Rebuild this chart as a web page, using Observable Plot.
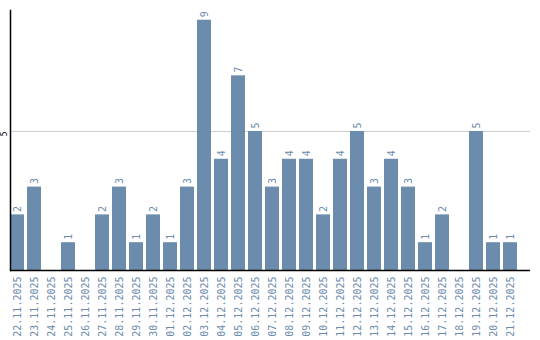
<!DOCTYPE html>
<html><head><meta charset="utf-8">
<script src="https://cdn.jsdelivr.net/npm/d3@7"></script>
<script src="https://cdn.jsdelivr.net/npm/@observablehq/plot@0.6"></script>
<style>body{margin:0;background:#fff}</style>
</head><body><div id="chart"></div>
<script>
const dates = ["22.11.2025","23.11.2025","24.11.2025","25.11.2025","26.11.2025","27.11.2025","28.11.2025","29.11.2025","30.11.2025","01.12.2025","02.12.2025","03.12.2025","04.12.2025","05.12.2025","06.12.2025","07.12.2025","08.12.2025","09.12.2025","10.12.2025","11.12.2025","12.12.2025","13.12.2025","14.12.2025","15.12.2025","16.12.2025","17.12.2025","18.12.2025","19.12.2025","20.12.2025","21.12.2025"];
const counts = [2,3,0,1,0,2,3,1,2,1,3,9,4,7,5,3,4,4,2,4,5,3,4,3,1,2,0,5,1,1];
const yTicks = [5];
const data = dates.map((d,i)=>({date:d, count:counts[i]}));
const barColor = "#6b8cad";
const chart = Plot.plot({
  width: 540, height: 340,
  marginLeft: 10, marginRight: 10, marginTop: 10, marginBottom: 70,
  style: {fontFamily: "DejaVu Sans Mono", fontSize: "10px", background: "#fff"},
  x: {domain: dates, paddingInner: 0.18, paddingOuter: 0.38, align: 0, label: null},
  y: {domain: [0, 9.35], label: null, axis: null},
  marks: [
    Plot.gridY(yTicks, {stroke: "#ccc", strokeOpacity: 1}),
    Plot.barY(data, {x: "date", y: "count", fill: barColor}),
    Plot.text(data.filter(d => d.count > 0), {x: "date", y: "count", text: d => String(d.count), rotate: -90, textAnchor: "start", dy: -3, fill: barColor, fontSize: 10}),
    Plot.axisX({tickSize: 0, tickPadding: 6, tickRotate: -90, fill: barColor, fontSize: 10, label: null}),
    Plot.text(yTicks, {y: d => d, text: d => String(d), frameAnchor: "left", dx: -6, rotate: -90, textAnchor: "end", fontSize: 8, fill: "black"}),
    Plot.ruleY([0], {stroke: "black", strokeWidth: 1.5}),
    Plot.frame({anchor: "left", stroke: "black", strokeWidth: 1.5})
  ]
});
document.getElementById("chart").append(chart);
</script>
</body></html>
